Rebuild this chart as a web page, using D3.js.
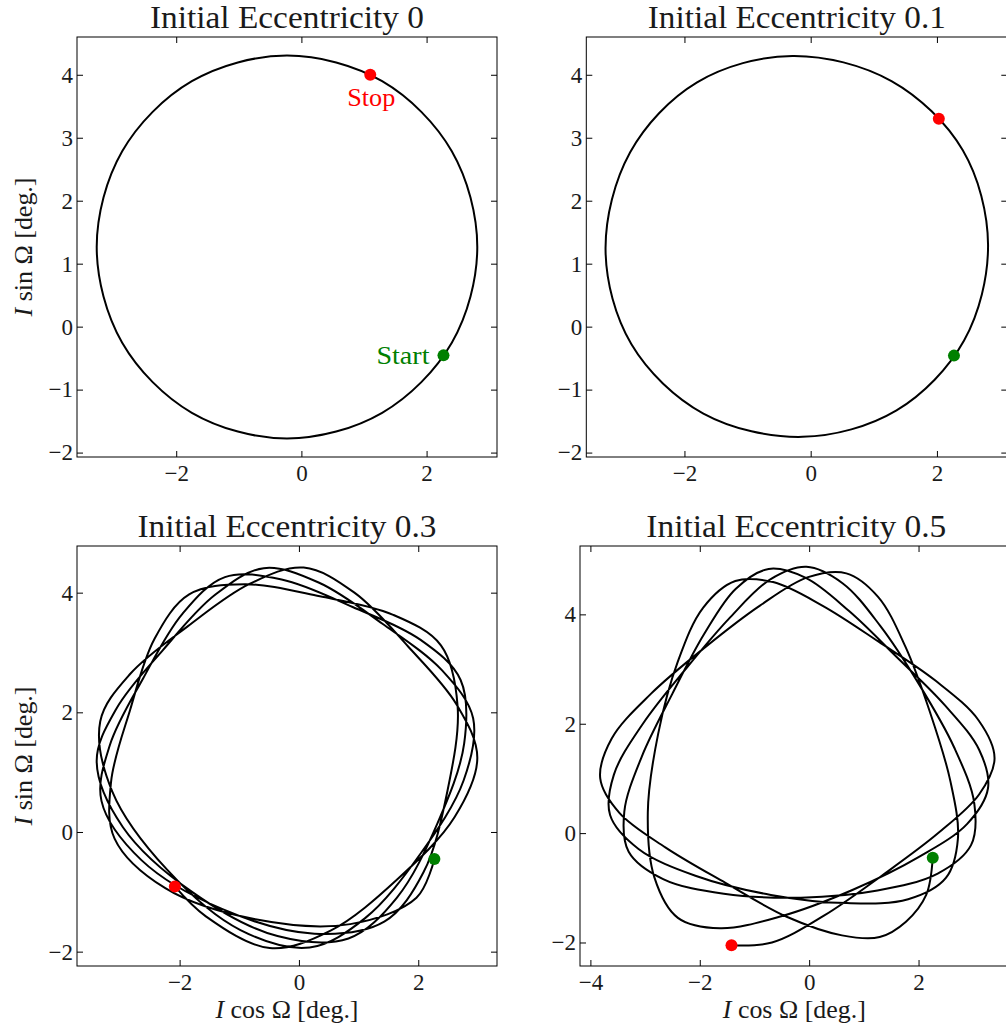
<!DOCTYPE html>
<html>
<head>
<meta charset="utf-8">
<script src="https://cdn.jsdelivr.net/npm/d3@7"></script>
<style>
  html, body { margin: 0; padding: 0; background: #ffffff; }
  svg { display: block; }
</style>
</head>
<body>
<svg id="chart" width="1006" height="1029"></svg>
<script>
// ---------------- data ----------------
const titles = ["Initial Eccentricity 0", "Initial Eccentricity 0.1", "Initial Eccentricity 0.3", "Initial Eccentricity 0.5"];
const xTicksTop = [-2, 0, 2];
const yTicksTop = [-2, -1, 0, 1, 2, 3, 4];
const xTicksE03 = [-2, 0, 2];
const xTicksE05 = [-4, -2, 0, 2];
const yTicksBottom = [-2, 0, 2, 4];
const yAxisLabelFn = "sin";
const xAxisLabelFn = "cos";

// e = 0 : closed circle traced repeatedly
const orbitE0 = [[2.81,1.265],[2.403,2.785],[1.29,3.898],[-0.23,4.305],[-1.75,3.898],[-2.863,2.785],
  [-3.27,1.265],[-2.863,-0.255],[-1.75,-1.368],[-0.23,-1.775],[1.29,-1.368],[2.403,-0.255]];

// e = 0.1 : nearly circular closed loop
const orbitE01 = [[2.81,1.30],[2.41,2.80],[1.28,3.90],[-0.29,4.30],[-1.80,3.88],[-2.86,2.77],
  [-3.25,1.22],[-2.84,-0.28],[-1.70,-1.38],[-0.13,-1.75],[1.36,-1.33],[2.43,-0.22]];

// e = 0.3 : braided ring, in time order from start to stop
const orbitE03 = [
  [2.27,-0.45],[1.97,-1.10],
  [0.86,-1.54],[-0.73,-1.46],[-2.24,-0.94],[-3.09,-0.11],
  [-3.15,0.83],[-2.83,2.04],[-2.42,3.23],[-1.84,3.97],
  [-0.91,4.14],[0.35,3.94],[1.58,3.63],[2.38,3.12],
  [2.66,2.10],[2.49,0.69],[2.09,-0.67],[1.43,-1.50],
  [0.26,-1.70],[-1.28,-1.29],[-2.64,-0.47],[-3.31,0.52],
  [-3.17,1.45],[-2.61,2.57],[-1.95,3.65],[-1.24,4.26],
  [-0.29,4.22],[0.90,3.76],[2.04,3.21],[2.71,2.54],
  [2.77,1.48],[2.32,0.14],[1.64,-1.10],[0.83,-1.78],
  [-0.36,-1.74],[-1.78,-1.01],[-2.95,0.08],[-3.39,1.18],
  [-3.06,2.06],[-2.28,3.04],[-1.41,3.96],[-0.59,4.41],
  [0.33,4.17],[1.40,3.48],[2.40,2.70],[2.92,1.90],
  [2.76,0.86],[2.04,-0.36],[1.11,-1.44],[0.18,-1.93],
  [-0.98,-1.64],[-2.21,-0.63],[-3.13,0.68],[-3.33,1.85],
  [-2.83,2.64],[-1.86,3.44],[-0.82,4.15],[0.08,4.42],
  [0.93,4.00],[1.83,3.10],[2.65,2.12],[2.99,1.24],
  [2.61,0.25],[1.65,-0.79],[0.53,-1.65],[-0.49,-1.94],
  [-1.56,-1.41],[-2.08,-0.91]
];

// e = 0.5 : precessing rounded triangles, in time order from start to stop
const orbitE05 = [
  [2.26,-0.45],[2.14,-1.13],[1.77,-1.62],[1.29,-1.90],
  [0.60,-1.87],[-0.41,-1.53],[-1.53,-0.91],[-2.63,-0.26],[-3.47,0.37],[-3.82,1.00],
  [-3.61,1.73],[-2.89,2.55],[-1.90,3.40],[-0.90,4.16],[-0.02,4.68],[0.68,4.75],
  [1.26,4.32],[1.76,3.41],[2.21,2.21],[2.58,0.96],[2.72,-0.10],[2.50,-0.82],
  [1.81,-1.21],[0.69,-1.28],[-0.70,-1.13],[-2.08,-0.78],[-3.12,-0.29],[-3.64,0.33],
  [-3.57,1.07],[-3.04,2.00],[-2.25,3.01],[-1.44,3.95],[-0.71,4.64],[-0.05,4.87],
  [0.61,4.57],[1.30,3.79],[2.01,2.72],[2.65,1.57],[3.02,0.54],[2.96,-0.22],
  [2.35,-0.74],[1.25,-1.05],[-0.15,-1.18],[-1.56,-1.11],[-2.67,-0.84],[-3.30,-0.34],
  [-3.38,0.39],[-3.06,1.40],[-2.50,2.55],[-1.92,3.64],[-1.34,4.47],[-0.74,4.83],
  [-0.07,4.67],[0.73,4.06],[1.60,3.22],[2.48,2.34],[3.11,1.52],[3.27,0.82],
  [2.89,0.17],[2.00,-0.44],[0.79,-1.04],[-0.51,-1.52],[-1.63,-1.74],[-2.40,-1.55],
  [-2.83,-0.81],[-2.95,0.38],[-2.76,1.82],[-2.40,3.14],[-1.94,4.12],[-1.35,4.61],
  [-0.66,4.59],[0.24,4.16],[1.27,3.50],[2.32,2.78],[3.10,2.06],[3.39,1.37],
  [3.11,0.71],[2.36,0.00],[1.34,-0.77],[0.27,-1.51],[-0.68,-2.00],[-1.42,-2.05]
];

const startPoints = [[2.27,-0.456],[2.27,-0.46],[2.27,-0.45],[2.26,-0.45]];
const stopPoints  = [[1.10,4.00],[2.03,3.30],[-2.08,-0.91],[-1.42,-2.05]];
const startLabel = "Start";
const stopLabel = "Stop";

// ---------------- layout ----------------
const FONT = "'Liberation Serif','Times New Roman',serif";
const TXT = "#1a1a1a";
const frames = [
  {x0:77,    x1:497,    y0:37,  y1:457, xd:[-3.585,3.125], yd:[-2.07,4.60]},
  {x0:586.3, x1:1007.3, y0:37,  y1:457, xd:[-3.555,3.115], yd:[-2.07,4.60]},
  {x0:77,    x1:497,    y0:546, y1:966, xd:[-3.72,3.32],   yd:[-2.24,4.78]},
  {x0:580,   x1:1012.6, y0:546, y1:966, xd:[-4.19,3.72],   yd:[-2.43,5.25]}
];
const orbits = [orbitE0, orbitE01, orbitE03, orbitE05];
const closedOrbit = [true, true, false, false];
const xTickSets = [xTicksTop, xTicksTop, xTicksE03, xTicksE05];
const yTickSets = [yTicksTop, yTicksTop, yTicksBottom, yTicksBottom];
const titleWidths = [274, 298, 299, 300];

const svg = d3.select("#chart");
svg.append("rect").attr("width", 1006).attr("height", 1029).attr("fill", "#ffffff");

const fmt = d3.format("d");
function styleAxis(sel) {
  sel.select(".domain").remove();
  sel.attr("font-family", FONT).attr("font-size", 23).attr("color", "#000");
  sel.selectAll(".tick line").attr("stroke-width", 1);
  sel.selectAll("text").attr("fill", TXT);
}
function mathLabel(textSel, fn) {
  textSel.append("tspan").attr("font-style", "italic").text("I");
  textSel.append("tspan").text(" " + fn + " \u03A9 [deg.]");
}

frames.forEach((f, i) => {
  const x = d3.scaleLinear().domain(f.xd).range([f.x0, f.x1]);
  const y = d3.scaleLinear().domain(f.yd).range([f.y1, f.y0]);
  const g = svg.append("g");
  const clipId = "clip" + i;
  g.append("clipPath").attr("id", clipId).append("rect")
    .attr("x", f.x0).attr("y", f.y0).attr("width", f.x1 - f.x0).attr("height", f.y1 - f.y0);

  const curve = closedOrbit[i] ? d3.curveCatmullRomClosed.alpha(0.5) : d3.curveCatmullRom.alpha(0.5);
  const line = d3.line().x(d => x(d[0])).y(d => y(d[1])).curve(curve);
  g.append("path").datum(orbits[i]).attr("d", line)
    .attr("fill", "none").attr("stroke", "#000").attr("stroke-width", 2)
    .attr("stroke-linejoin", "round").attr("clip-path", `url(#${clipId})`);

  g.append("circle").attr("cx", x(startPoints[i][0])).attr("cy", y(startPoints[i][1]))
    .attr("r", 6).attr("fill", "#008000");
  g.append("circle").attr("cx", x(stopPoints[i][0])).attr("cy", y(stopPoints[i][1]))
    .attr("r", 6).attr("fill", "#ff0000");

  // axes with inward ticks on all four sides
  const bottom = g.append("g").attr("transform", `translate(0,${f.y1})`)
    .call(d3.axisBottom(x).tickValues(xTickSets[i]).tickSize(-6).tickSizeOuter(0).tickFormat(fmt))
    .call(styleAxis);
  bottom.selectAll("text").attr("y", 24).attr("dy", null);
  g.append("g").attr("transform", `translate(0,${f.y0})`)
    .call(d3.axisTop(x).tickValues(xTickSets[i]).tickSize(-6).tickSizeOuter(0).tickFormat(() => ""))
    .call(styleAxis);
  const left = g.append("g").attr("transform", `translate(${f.x0},0)`)
    .call(d3.axisLeft(y).tickValues(yTickSets[i]).tickSize(-6).tickSizeOuter(0).tickPadding(4).tickFormat(fmt))
    .call(styleAxis);
  left.selectAll("text").attr("dy", "0.32em");
  g.append("g").attr("transform", `translate(${f.x1},0)`)
    .call(d3.axisRight(y).tickValues(yTickSets[i]).tickSize(-6).tickSizeOuter(0).tickFormat(() => ""))
    .call(styleAxis);

  g.append("rect").attr("x", f.x0).attr("y", f.y0)
    .attr("width", f.x1 - f.x0).attr("height", f.y1 - f.y0)
    .attr("fill", "none").attr("stroke", "#000").attr("stroke-width", 1);

  svg.append("text").attr("x", (f.x0 + f.x1) / 2).attr("y", f.y0 - 9)
    .attr("text-anchor", "middle").attr("font-family", FONT).attr("font-size", 32)
    .attr("fill", TXT).attr("textLength", titleWidths[i]).attr("lengthAdjust", "spacingAndGlyphs")
    .text(titles[i]);

  if (i === 0 || i === 2) {
    const t = svg.append("text")
      .attr("transform", `translate(32,${(f.y0 + f.y1) / 2}) rotate(-90)`)
      .attr("text-anchor", "middle").attr("font-family", FONT).attr("font-size", 26)
      .attr("fill", TXT).attr("textLength", 139).attr("lengthAdjust", "spacingAndGlyphs");
    mathLabel(t, yAxisLabelFn);
  }
  if (i === 2 || i === 3) {
    const t = svg.append("text")
      .attr("x", (f.x0 + f.x1) / 2 - (i === 3 ? 2 : 0)).attr("y", 1018)
      .attr("text-anchor", "middle").attr("font-family", FONT).attr("font-size", 26)
      .attr("fill", TXT).attr("textLength", 143).attr("lengthAdjust", "spacingAndGlyphs");
    mathLabel(t, xAxisLabelFn);
  }
  if (i === 0) {
    const sx = x(stopPoints[0][0]), sy = y(stopPoints[0][1]);
    svg.append("text").attr("x", sx + 1).attr("y", sy + 31)
      .attr("text-anchor", "middle").attr("font-family", FONT).attr("font-size", 25)
      .attr("fill", "#ff0000").attr("textLength", 48).attr("lengthAdjust", "spacingAndGlyphs")
      .text(stopLabel);
    const gx = x(startPoints[0][0]), gy = y(startPoints[0][1]);
    svg.append("text").attr("x", gx - 14).attr("y", gy + 9)
      .attr("text-anchor", "end").attr("font-family", FONT).attr("font-size", 25)
      .attr("fill", "#008000").attr("textLength", 53).attr("lengthAdjust", "spacingAndGlyphs")
      .text(startLabel);
  }
});
</script>
</body>
</html>
